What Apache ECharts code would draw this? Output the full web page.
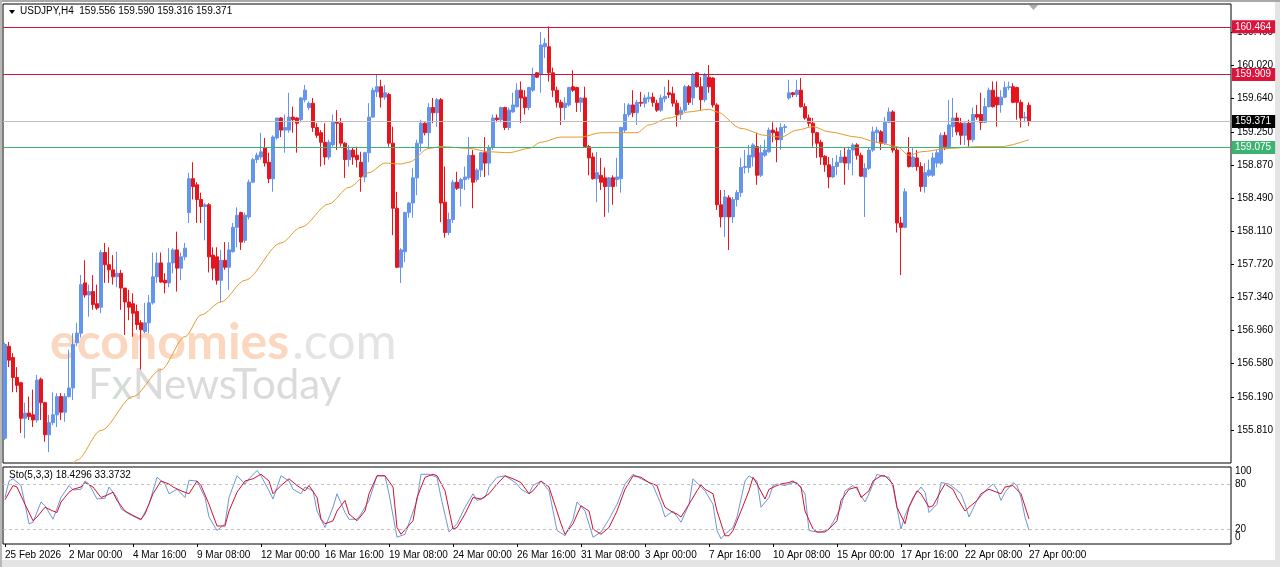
<!DOCTYPE html>
<html><head><meta charset="utf-8">
<script src="https://cdn.jsdelivr.net/npm/echarts@6/dist/echarts.min.js"></script>
<style>html,body{margin:0;padding:0;background:#fff}#c{width:1280px;height:567px}</style>
</head><body><div id="c"></div>
<script>
// ---------- DATA ----------
const symbolName = 'USDJPY,H4';
const lastQuote = [159.556, 159.590, 159.316, 159.371];   // O H L C of last bar
// H4 candles, each row = [open, high, low, close]
const candles = [
[155.72,156.82,155.70,156.80],[156.78,156.83,156.54,156.62],[156.65,156.70,156.25,156.42],[156.42,156.54,156.25,156.33],
[156.36,156.37,155.78,155.95],[155.95,156.13,155.72,156.01],[156.01,156.20,155.93,155.97],[155.99,156.28,155.85,155.93],
[155.93,156.45,155.90,156.39],[156.40,156.42,155.93,156.13],[156.13,156.14,155.68,155.76],[155.76,155.99,155.56,155.90],
[155.90,156.25,155.87,155.99],[155.99,156.24,155.85,156.20],[156.20,156.24,155.93,156.02],[156.02,156.24,155.91,156.20],
[156.20,156.74,156.19,156.30],[156.30,156.93,156.16,156.80],[156.82,157.05,156.78,156.93],[156.93,157.60,156.88,157.49],
[157.51,157.77,157.34,157.37],[157.37,157.49,157.12,157.41],[157.41,157.60,157.20,157.26],[157.27,157.49,157.20,157.22],
[157.23,157.89,157.16,157.86],[157.86,157.97,157.51,157.72],[157.72,157.92,157.51,157.66],[157.66,157.83,157.49,157.58],
[157.58,157.87,157.46,157.62],[157.62,157.66,157.20,157.45],[157.45,157.45,156.91,157.29],[157.29,157.43,157.08,157.23],
[157.27,157.39,156.89,157.16],[157.18,157.26,156.97,157.03],[157.05,157.08,156.51,156.97],[156.95,157.28,156.93,157.05],
[157.05,157.37,156.93,157.28],[157.28,157.86,157.26,157.58],[157.58,157.86,157.51,157.74],[157.74,157.86,157.51,157.52],
[157.54,157.62,157.39,157.51],[157.51,157.91,157.46,157.74],[157.74,157.91,157.62,157.89],[157.89,158.10,157.41,157.68],
[157.68,157.86,157.54,157.81],[157.81,157.97,157.77,157.91],[158.32,158.78,158.20,158.71],[158.71,158.90,158.47,158.62],
[158.64,158.67,158.20,158.47],[158.47,158.55,158.20,158.39],[158.39,158.43,158.00,158.41],[158.41,158.43,157.63,157.81],
[157.83,157.92,157.54,157.68],[157.81,157.92,157.49,157.54],[157.54,157.89,157.29,157.77],[157.77,157.98,157.66,157.69],
[157.69,157.98,157.43,157.89],[157.87,158.20,157.86,158.15],[158.15,158.38,157.92,158.29],[158.32,158.33,157.89,157.98],
[158.00,158.32,157.97,158.29],[158.27,158.70,158.24,158.67],[158.67,158.95,158.66,158.93],[158.93,159.01,158.89,158.98],
[158.96,159.24,158.93,159.02],[159.07,159.18,158.85,158.89],[158.90,159.01,158.66,158.71],[158.71,159.21,158.56,159.19],
[159.18,159.41,159.16,159.41],[159.41,159.42,159.19,159.27],[159.27,159.45,159.01,159.30],[159.27,159.70,159.24,159.42],
[159.42,159.54,159.24,159.39],[159.41,159.42,159.01,159.35],[159.39,159.65,159.36,159.64],[159.62,159.79,159.59,159.73],
[159.53,159.60,159.50,159.58],[159.58,159.64,159.25,159.30],[159.30,159.35,159.18,159.21],[159.24,159.27,158.85,159.13],
[159.13,159.35,158.87,158.96],[158.96,159.16,158.93,159.13],[159.10,159.45,159.08,159.36],[159.36,159.50,159.04,159.35],
[159.35,159.41,159.08,159.12],[159.12,159.13,158.72,158.93],[158.93,159.10,158.85,159.04],[159.04,159.07,158.87,158.96],
[158.98,159.08,158.84,158.93],[158.90,159.02,158.56,158.73],[158.73,159.02,158.67,159.01],[159.01,159.58,158.90,159.42],
[159.42,159.76,159.41,159.73],[159.71,159.91,159.65,159.77],[159.77,159.85,159.53,159.65],[159.65,159.79,159.62,159.70],
[159.68,159.70,159.08,159.12],[159.12,159.31,158.06,158.37],[158.37,158.56,157.68,157.69],[157.69,157.91,157.51,157.89],
[157.87,158.33,157.75,158.32],[158.32,158.44,158.26,158.43],[158.43,158.83,158.26,158.72],[158.72,159.16,158.52,159.12],
[159.12,159.39,159.02,159.35],[159.35,159.36,159.21,159.24],[159.24,159.58,159.07,159.53],[159.53,159.64,159.35,159.47],
[159.47,159.64,159.31,159.62],[159.62,159.64,158.21,158.43],[158.44,158.85,158.03,158.09],[158.09,158.32,158.06,158.24],
[158.24,158.70,158.20,158.67],[158.67,158.79,158.58,158.60],[158.60,158.72,158.39,158.70],[158.70,158.85,158.58,158.73],
[158.72,159.19,158.70,158.98],[158.98,159.04,158.37,158.67],[158.70,158.83,158.67,158.81],[158.81,159.02,158.73,159.01],
[159.01,159.19,158.73,158.89],[158.89,159.10,158.75,159.07],[159.07,159.45,159.04,159.41],[159.41,159.45,159.36,159.39],
[159.39,159.54,159.36,159.53],[159.53,159.54,159.27,159.30],[159.30,159.53,159.27,159.50],[159.48,159.70,159.47,159.56],
[159.54,159.81,159.53,159.73],[159.73,159.83,159.35,159.64],[159.65,159.73,159.45,159.53],[159.53,159.77,159.50,159.76],
[159.73,159.99,159.71,159.91],[159.93,159.94,159.87,159.88],[159.91,160.40,159.70,160.25],[160.23,160.33,160.10,160.27],
[160.23,160.464,159.83,159.93],[159.93,159.99,159.65,159.73],[159.73,159.77,159.53,159.59],[159.59,159.62,159.33,159.53],
[159.53,159.65,159.39,159.58],[159.56,159.77,159.54,159.76],[159.77,159.96,159.71,159.73],[159.76,159.77,159.48,159.59],
[159.59,159.65,159.48,159.64],[159.64,159.77,159.07,159.08],[159.08,159.10,158.75,158.95],[158.96,159.01,158.70,158.71],
[158.71,159.02,158.44,158.78],[158.75,158.95,158.58,158.67],[158.72,158.84,158.27,158.62],[158.62,158.73,158.32,158.72],
[158.72,158.75,158.41,158.62],[158.70,158.95,158.62,158.73],[158.71,159.31,158.55,159.30],[159.27,159.58,159.24,159.45],
[159.45,159.58,159.42,159.56],[159.56,159.73,159.42,159.47],[159.47,159.62,159.33,159.59],[159.59,159.71,159.54,159.58],
[159.58,159.68,159.53,159.64],[159.63,159.71,159.59,159.65],[159.65,159.70,159.54,159.59],[159.58,159.62,159.48,159.50],
[159.50,159.68,159.48,159.64],[159.63,159.77,159.59,159.66],[159.70,159.85,159.64,159.68],[159.69,159.77,159.54,159.58],
[159.58,159.62,159.31,159.45],[159.45,159.54,159.39,159.50],[159.50,159.79,159.48,159.77],[159.77,159.79,159.56,159.59],
[159.64,159.93,159.56,159.91],[159.93,159.94,159.76,159.77],[159.77,159.88,159.50,159.62],[159.62,159.93,159.59,159.91],
[159.88,160.02,159.70,159.77],[159.87,159.88,159.53,159.56],[159.56,159.58,158.35,158.41],[158.41,158.58,158.15,158.27],
[158.27,158.58,158.04,158.50],[158.49,158.52,157.89,158.27],[158.27,158.50,158.20,158.47],[158.47,158.58,158.39,158.55],
[158.55,158.95,158.50,158.84],[158.84,159.04,158.77,158.85],[158.84,159.10,158.78,158.98],[158.96,159.12,158.85,159.10],
[159.08,159.24,158.64,158.75],[158.75,159.10,158.73,159.01],[158.98,159.16,158.96,159.04],[159.02,159.30,159.01,159.27],
[159.27,159.36,159.13,159.24],[159.25,159.30,158.90,159.16],[159.16,159.35,159.04,159.30],[159.30,159.34,159.24,159.31],
[159.64,159.85,159.62,159.70],[159.70,159.71,159.65,159.68],[159.68,159.85,159.65,159.73],[159.73,159.87,159.53,159.54],
[159.54,159.58,159.39,159.41],[159.41,159.45,159.31,159.35],[159.35,159.41,159.08,159.24],[159.24,159.25,158.95,159.12],
[159.13,159.16,158.87,158.96],[158.97,158.98,158.79,158.87],[158.87,158.96,158.60,158.73],[158.73,158.95,158.72,158.85],
[158.85,158.98,158.75,158.90],[158.90,159.04,158.89,158.96],[158.96,159.07,158.64,158.89],[158.89,159.08,158.81,159.04],
[159.04,159.12,158.75,159.10],[159.10,159.12,158.93,158.98],[158.98,159.01,158.73,158.74],[158.73,158.89,158.27,158.83],
[158.83,159.07,158.81,159.04],[159.04,159.31,159.02,159.25],[159.24,159.31,159.12,159.27],[159.25,159.27,159.04,159.12],
[159.12,159.42,159.10,159.36],[159.36,159.53,159.35,159.48],[159.48,159.50,159.01,159.04],[159.04,159.08,158.09,158.20],
[158.20,158.27,157.60,158.15],[158.15,158.60,158.14,158.56],[159.01,159.19,158.84,158.85],[158.85,159.07,158.84,158.96],
[158.95,159.04,158.80,158.85],[158.85,158.90,158.56,158.62],[158.62,158.89,158.55,158.78],[158.75,158.93,158.73,158.81],
[158.75,159.01,158.73,158.95],[158.89,159.04,158.84,159.01],[158.89,159.24,158.87,159.21],[159.21,159.25,159.04,159.08],
[159.08,159.62,159.07,159.33],[159.31,159.64,159.19,159.41],[159.41,159.47,159.21,159.25],[159.35,159.41,159.10,159.21],
[159.21,159.36,159.10,159.35],[159.35,159.39,159.08,159.16],[159.16,159.53,159.13,159.45],[159.45,159.56,159.39,159.42],
[159.45,159.70,159.27,159.36],[159.36,159.64,159.35,159.54],[159.54,159.76,159.53,159.73],[159.73,159.83,159.53,159.54],
[159.65,159.83,159.31,159.56],[159.56,159.73,159.47,159.65],[159.65,159.83,159.64,159.76],[159.76,159.83,159.73,159.77],
[159.77,159.81,159.58,159.59],[159.76,159.77,159.39,159.59],[159.59,159.62,159.30,159.41],[159.41,159.48,159.36,159.42],
[159.556,159.590,159.316,159.371]
];
// moving average: [bar index, value]
const maPoints = [[16,155.35],[18,155.47],[24,155.81],[32,156.20],[39,156.51],[45,156.89],[49,157.14],[54,157.29],[60,157.54],
[69,157.97],[74,158.15],[81,158.42],[86,158.61],[91,158.78],[95,158.89],[99,158.88],[101,158.90],[106,159.06],[109,159.08],
[116,159.06],[121,159.02],[126,159.01],[131,159.06],[134,159.13],[139,159.19],[144,159.19],[149,159.24],[154,159.24],[158,159.24],
[161,159.33],[166,159.41],[171,159.48],[176,159.51],[178,159.48],[184,159.29],[190,159.21],[194,159.19],[198,159.27],[202,159.31],
[206,159.25],[213,159.19],[218,159.13],[223,159.08],[226,158.98],[229,159.02],[236,159.06],[243,159.08],[249,159.08],[256,159.16]];
// Stochastic(5,3,3): [bar index, value]
const stochK = [[0,62],[1,84],[2,87],[4,78],[5,53],[6,27],[7,29],[9,56],[10,51],[12,33],[14,62],[16,78],[17,72],[19,73],[20,84],[21,80],
[23,60],[25,61],[26,76],[28,62],[29,47],[31,40],[34,32],[36,53],[38,89],[40,80],[41,67],[43,73],[45,62],[46,85],[48,84],[50,62],
[51,36],[53,18],[55,27],[56,62],[58,91],[60,80],[61,87],[63,98],[64,91],[66,71],[67,60],[69,91],[71,84],[72,73],[74,67],[75,76],
[77,71],[78,44],[80,22],[82,49],[83,67],[85,42],[86,33],[88,33],[89,40],[91,58],[93,91],[95,91],[96,67],[98,9],[100,13],[103,58],
[104,93],[106,93],[108,89],[109,62],[111,16],[113,27],[115,49],[117,67],[118,58],[120,62],[121,76],[123,89],[125,91],[127,84],
[128,80],[129,73],[131,67],[132,78],[134,84],[136,71],[138,18],[140,11],[142,33],[143,56],[145,44],[147,9],[149,16],[151,33],
[153,53],[155,80],[157,93],[159,87],[161,82],[162,78],[164,53],[165,36],[167,44],[169,29],[171,53],[172,87],[174,76],[175,71],
[177,53],[178,18],[179,7],[180,13],[182,22],[183,36],[185,84],[186,91],[188,84],[189,49],[191,62],[192,78],[193,80],[195,78],
[197,82],[198,82],[200,67],[201,18],[203,16],[204,16],[206,20],[207,29],[209,49],[210,71],[212,78],[213,73],[215,56],[216,67],
[218,93],[219,91],[221,89],[222,76],[224,20],[225,38],[227,62],[229,76],[230,69],[231,42],[233,53],[234,82],[236,80],[237,76],
[239,67],[240,53],[241,36],[243,58],[244,64],[245,71],[247,80],[248,73],[249,58],[250,69],[252,82],[253,78],[254,62],[255,36],[256,18.4296]];
const stochD = [[0,59],[2,78],[3,76],[5,53],[7,31],[8,36],[10,49],[12,44],[13,42],[14,56],[16,69],[17,73],[19,76],[20,82],[22,76],
[24,62],[25,64],[27,69],[28,58],[30,44],[32,38],[34,33],[35,40],[37,67],[39,84],[41,80],[42,76],[44,71],[46,67],[48,84],[49,78],
[51,53],[53,24],[55,24],[56,44],[58,69],[60,84],[62,87],[64,93],[66,84],[67,67],[69,78],[71,87],[73,78],[75,71],[76,78],[78,62],
[79,33],[80,27],[82,31],[83,44],[85,58],[86,40],[88,31],[90,44],[91,67],[93,91],[95,91],[97,76],[98,22],[99,13],[102,31],[103,62],
[105,89],[107,93],[108,91],[110,71],[112,20],[113,22],[115,40],[117,62],[119,60],[121,67],[123,80],[125,91],[127,87],[129,82],
[131,67],[132,71],[134,84],[136,76],[139,27],[140,13],[142,27],[144,51],[146,44],[147,20],[149,13],[151,22],[153,44],[155,73],
[157,91],[159,89],[161,82],[163,78],[164,62],[165,49],[167,42],[168,40],[169,36],[171,53],[173,71],[174,79],[175,73],[177,67],
[178,44],[180,11],[181,11],[182,18],[184,44],[186,71],[187,89],[188,80],[190,60],[191,73],[193,78],[194,80],[196,82],[197,84],
[199,76],[200,44],[202,20],[203,16],[205,16],[206,20],[208,31],[209,58],[211,73],[213,76],[214,62],[216,71],[217,84],[219,91],
[220,91],[222,80],[223,49],[225,27],[226,49],[228,71],[229,67],[231,49],[232,51],[234,71],[235,80],[237,73],[238,62],[240,44],
[241,49],[243,58],[244,67],[246,73],[247,71],[249,67],[250,76],[252,78],[254,67],[256,33.3732]];
const stochLast = [18.4296, 33.3732];
const priceTicks = [155.430,155.810,156.190,156.580,156.960,157.340,157.720,158.110,158.490,158.870,159.250,159.640,160.020,160.400];
const stochLevels = [20, 80];           // dashed levels, also labelled on the axis
const stochBounds = [0, 100];           // labelled at the panel edges
const timeTicks = ['25 Feb 2026','2 Mar 00:00','4 Mar 16:00','9 Mar 08:00','12 Mar 00:00','16 Mar 16:00','19 Mar 08:00',
'24 Mar 00:00','26 Mar 16:00','31 Mar 08:00','3 Apr 00:00','7 Apr 16:00','10 Apr 08:00','15 Apr 00:00','17 Apr 16:00',
'22 Apr 08:00','27 Apr 00:00'];
const tickStep = 16;              // bars between time labels
const levelValues = [160.464, 159.909, 159.371, 159.075];
const totalSlots = 307;           // bars + empty space on the right

// ---------- categories (H4 bars, weekdays only) ----------
const categories = [];
{
  let t = Date.UTC(2026, 1, 25, 8);
  while (categories.length < candles.length) {
    const d = new Date(t);
    const wd = d.getUTCDay();
    if (wd !== 0 && wd !== 6) categories.push(d.toISOString().slice(0, 16));
    t += 4 * 3600e3;
  }
  for (let i = candles.length; i < totalSlots; i++) categories.push('+' + i);
}

// ---------- styles ----------
const FONT = 'Tahoma, "Liberation Sans", Arial, sans-serif';
const BULL = '#6495ED', BEAR = '#E8141B';
const levelLine = ['#D2143C', '#D2143C', '#BEBEBE', '#3CB371'];
const levelBg = ['#DC143C', '#DC143C', '#000000', '#3CB371'];

const chart = echarts.init(document.getElementById('c'), null, {renderer: 'canvas'});
const ecData = candles.map(r => [r[0], r[3], r[2], r[1]]);
const showTick = (i) => i % tickStep === 0 && i / tickStep < timeTicks.length;

const baseGraphic = [
  {id: 'bg', type: 'rect', z: -100, shape: {x: 2, y: 2, width: 1273, height: 558}, style: {fill: '#ffffff'}, silent: true},
  {id: 'topEdge', type: 'rect', z: -99, shape: {x: 0, y: 0, width: 1280, height: 2}, style: {fill: '#a8a8a8'}, silent: true},
  {id: 'leftEdge', type: 'rect', z: -99, shape: {x: 0, y: 0, width: 2, height: 567}, style: {fill: '#b8b8b8'}, silent: true},
  // watermark
  {id: 'wm1', type: 'text', z: -50, left: 50, top: 318, silent: true,
   style: {text: 'economies', fill: '#FCD7C0', font: 'bold 50px Lato, "Open Sans", sans-serif'}},
  {id: 'wm2', type: 'text', z: -50, left: 292, top: 318, silent: true,
   style: {text: '.com', fill: '#E4E4E4', font: '50px Lato, "Open Sans", sans-serif'}},
  {id: 'wm3', type: 'text', z: -50, left: 88, top: 364, silent: true,
   style: {text: '{a|F}{b|x}{a|NewsToday}', rich: {
     a: {fill: '#DBDBDB', font: '42px Lato, "Open Sans", sans-serif'},
     b: {fill: '#D3DDD5', font: '42px Lato, "Open Sans", sans-serif'}}}},
  // header
  {id: 'hdrTri', type: 'polygon', shape: {points: [[9, 10], [15, 10], [12, 14]]}, style: {fill: '#000'}, silent: true},
  {id: 'hdr', type: 'text', left: 20, top: 6, silent: true,
   style: {text: symbolName + '  ' + lastQuote.map(v => v.toFixed(3)).join(' '), fill: '#000', font: '10px ' + FONT}},
  {id: 'stoHdr', type: 'text', left: 9, top: 470, silent: true,
   style: {text: 'Sto(5,3,3) ' + stochLast.map(v => v.toFixed(4)).join(' '), fill: '#000', font: '10px ' + FONT}},
  // chart shift marker
  {id: 'shift', type: 'polygon', shape: {points: [[1029, 5], [1038, 5], [1033.5, 10]]}, style: {fill: '#ababab'}, silent: true}
];

// one carrier series per horizontal price level, so each line keeps its own colour
const levelSeries = levelValues.map((v, i) => ({
  type: 'line', xAxisIndex: 0, yAxisIndex: 0, data: [], z: 2, silent: true,
  markLine: {symbol: ['none', 'none'], silent: true, animation: false,
    lineStyle: {color: levelLine[i], width: 1, type: 'solid', opacity: 1},
    label: {show: true, position: 'end', distance: 1, formatter: v.toFixed(3), color: '#fff',
      backgroundColor: levelBg[i], padding: [2, 4, 1, 3], fontSize: 10, fontFamily: FONT},
    data: [{yAxis: v}]}
}));

chart.setOption({
  animation: false,
  backgroundColor: '#e4e4e4',
  textStyle: {fontFamily: FONT},
  grid: [
    {left: 3, top: 4, width: 1228, height: 459, show: true, borderColor: '#000', borderWidth: 1, outerBoundsMode: 'none', containLabel: false},
    {left: 3, top: 467, width: 1228, height: 77, show: true, borderColor: '#000', borderWidth: 1, outerBoundsMode: 'none', containLabel: false}
  ],
  xAxis: [
    {type: 'category', gridIndex: 0, data: categories, boundaryGap: true,
     axisLine: {show: false}, axisTick: {show: false}, axisLabel: {show: false}, splitLine: {show: false}},
    {type: 'category', gridIndex: 1, data: categories, boundaryGap: true,
     axisLine: {show: false},
     axisTick: {show: true, alignWithLabel: true, length: 3, lineStyle: {color: '#000'}, interval: showTick},
     axisLabel: {show: true, align: 'left', margin: 6, fontSize: 10, color: '#000', fontFamily: FONT,
       interval: showTick, formatter: (v, i) => timeTicks[i / tickStep] || ''},
     splitLine: {show: false}}
  ],
  yAxis: [
    {type: 'value', gridIndex: 0, position: 'right', min: 155.435, max: 160.723, scale: true,
     axisLine: {show: false}, splitLine: {show: false},
     axisTick: {show: true, length: 3, lineStyle: {color: '#000'}, customValues: priceTicks},
     axisLabel: {show: true, margin: 6, fontSize: 10, color: '#000', fontFamily: FONT, customValues: priceTicks,
       formatter: (v) => v.toFixed(3)}},
    {type: 'value', gridIndex: 1, position: 'right', min: 0, max: 102.7,
     axisLine: {show: false}, splitLine: {show: false}, axisTick: {show: false},
     axisLabel: {show: true, margin: 4, fontSize: 10, color: '#000', fontFamily: FONT, customValues: stochLevels,
       formatter: (v) => String(v)}}
  ],
  graphic: baseGraphic,
  series: levelSeries.concat([
    {type: 'candlestick', xAxisIndex: 0, yAxisIndex: 0, data: ecData, barWidth: 3, z: 3,
     itemStyle: {color: BULL, color0: BEAR, borderColor: BULL, borderColor0: BEAR, borderWidth: 1}},
    {type: 'line', xAxisIndex: 0, yAxisIndex: 0, data: maPoints, showSymbol: false, symbol: 'none',
     smooth: 0.3, smoothMonotone: 'x', z: 4, lineStyle: {color: '#E59A2C', width: 1}},
    {type: 'line', xAxisIndex: 1, yAxisIndex: 1, data: stochK, symbol: 'none', z: 3,
     lineStyle: {color: '#6F96D6', width: 1},
     markLine: {symbol: ['none', 'none'], silent: true, label: {show: false},
       lineStyle: {color: '#C0C0C0', type: [3, 3], width: 1},
       data: stochLevels.map(v => ({yAxis: v}))}},
    {type: 'line', xAxisIndex: 1, yAxisIndex: 1, data: stochD, symbol: 'none', z: 4,
     lineStyle: {color: '#D2122E', width: 1}}
  ])
});

// 0 / 100 labels of the oscillator, kept inside the panel as the terminal does
const xLab = chart.convertToPixel({xAxisIndex: 1}, totalSlots - 1) + 6;
const yTop = chart.convertToPixel({yAxisIndex: 1}, stochBounds[1]);
const yBot = chart.convertToPixel({yAxisIndex: 1}, stochBounds[0]);
chart.setOption({graphic: [
  {id: 'lab100', type: 'text', left: xLab, top: yTop - 3, silent: true,
   style: {text: String(stochBounds[1]), fill: '#000', font: '10px ' + FONT}},
  {id: 'lab0', type: 'text', left: xLab, top: yBot - 12, silent: true,
   style: {text: String(stochBounds[0]), fill: '#000', font: '10px ' + FONT}}
]});
</script>
</body></html>
